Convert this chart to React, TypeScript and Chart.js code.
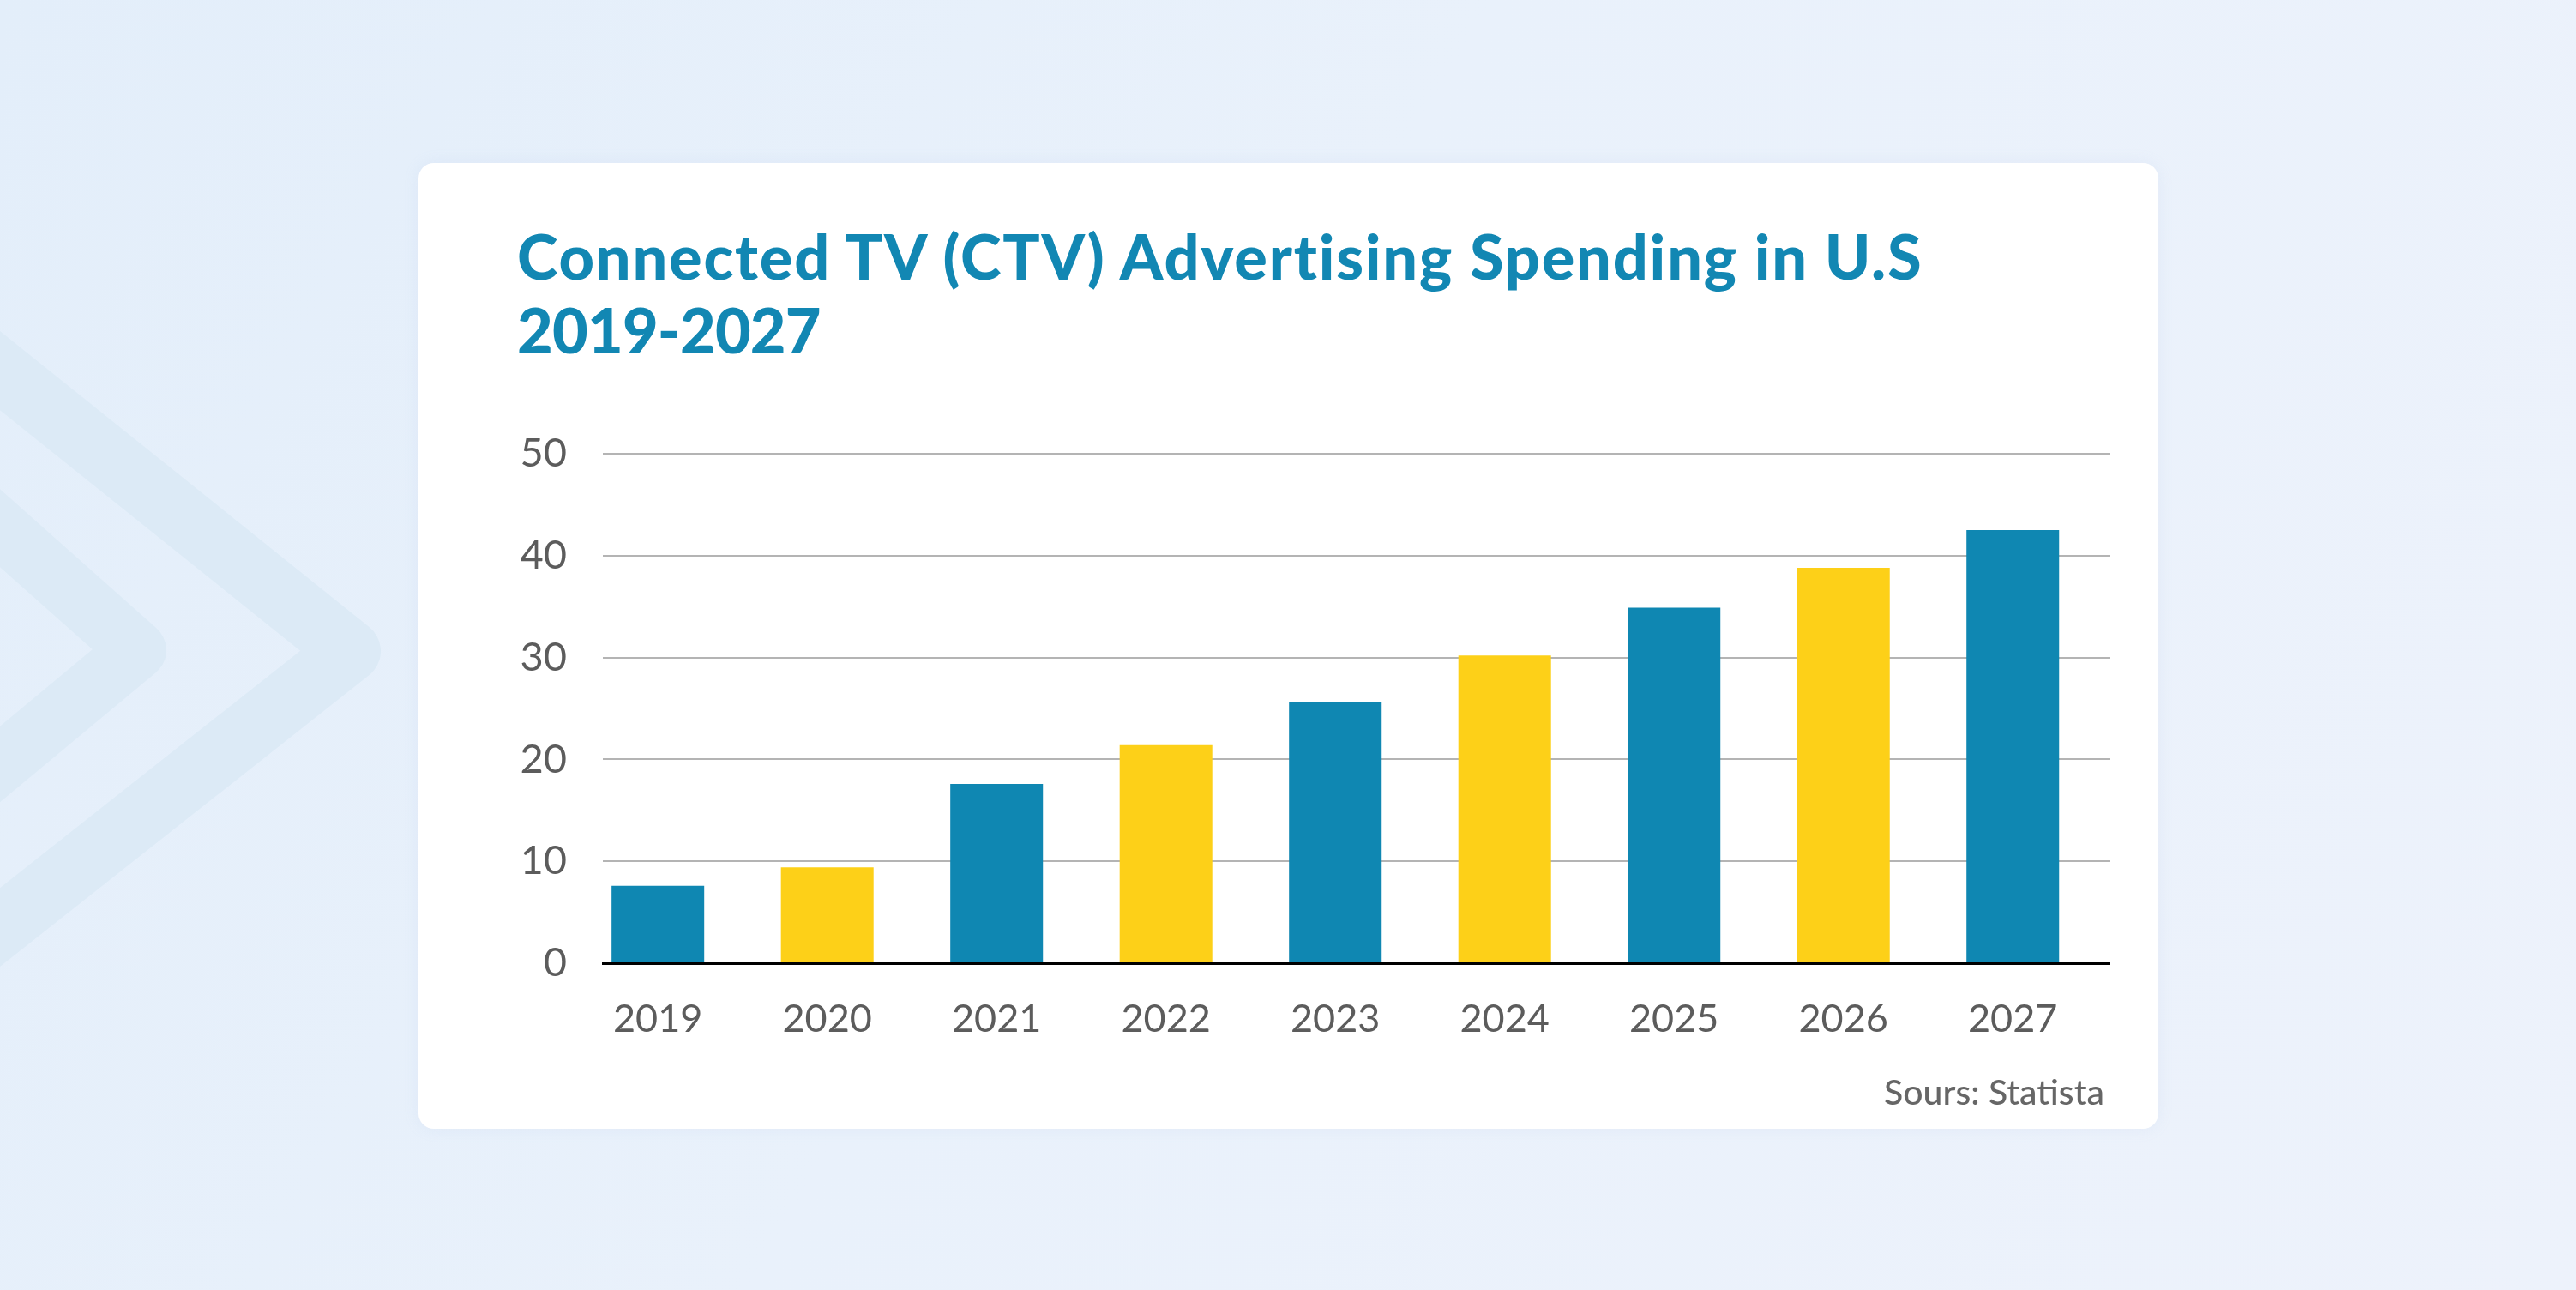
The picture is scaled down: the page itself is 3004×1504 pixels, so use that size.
import React, { useEffect, useRef } from 'react';
import { Chart, registerables } from 'chart.js';

Chart.register(...registerables);

// ---- data ----
const years = [2019, 2020, 2021, 2022, 2023, 2024, 2025, 2026, 2027];
const yearLabels = ['2019', '2020', '2021', '2022', '2023', '2024', '2025', '2026', '2027'];
const spending = [7.6, 9.4, 17.6, 21.4, 25.6, 30.2, 34.9, 38.8, 42.5];
const yTickValues = [0, 10, 20, 30, 40, 50];
const titleLines = ['Connected TV (CTV) Advertising Spending in U.S', '2019-2027'];
const sourceText = 'Sours: Statista';

const BLUE = '#0F87B2';
const YELLOW = '#FDD018';
const TEXT_GRAY = '#5C5C5C';
const FONT = "Lato, 'Open Sans', 'DejaVu Sans', sans-serif";
const TITLE_SPACING = ['1.8px', '-0.8px'];

export default function App() {
  const canvasRef = useRef<HTMLCanvasElement | null>(null);

  useEffect(() => {
    const canvas = canvasRef.current;
    if (!canvas) return;
    const barColors = years.map((_, i) => (i % 2 === 0 ? BLUE : YELLOW));
    const chart = new Chart(canvas, {
      type: 'bar',
      data: {
        datasets: [
          {
            data: years.map((x, i) => ({ x, y: spending[i] })),
            backgroundColor: barColors,
            borderWidth: 0,
            barPercentage: 0.547,
            categoryPercentage: 1,
          },
        ],
      },
      options: {
        responsive: false,
        animation: false,
        devicePixelRatio: 1,
        layout: { padding: { left: 583, right: 544, top: 529, bottom: 261 } },
        plugins: {
          legend: { display: false },
          tooltip: { enabled: false },
          title: { display: false },
        },
        scales: {
          x: {
            type: 'linear',
            min: 2018.675,
            max: 2027.571,
            offset: false,
            grid: { display: false, drawTicks: false },
            border: { display: true, color: '#000000', width: 3 },
            afterBuildTicks: (s: any) => {
              s.ticks = years.map((v) => ({ value: v }));
            },
            afterFit: (s: any) => {
              s.height = 120;
            },
            ticks: {
              padding: 38,
              color: TEXT_GRAY,
              font: { family: FONT, size: 45, weight: 'normal' },
              maxRotation: 0,
              autoSkip: false,
              callback: (v: any) => {
                const idx = years.indexOf(Math.round(Number(v)));
                return idx >= 0 ? yearLabels[idx] : '';
              },
            },
          },
          y: {
            type: 'linear',
            min: 0,
            max: 50,
            afterBuildTicks: (s: any) => {
              s.ticks = yTickValues.map((v) => ({ value: v }));
            },
            afterFit: (s: any) => {
              s.width = 120;
            },
            grid: {
              drawTicks: false,
              lineWidth: 2,
              color: (ctx: any) => (ctx.tick && ctx.tick.value === 0 ? 'rgba(0,0,0,0)' : '#B4B4B4'),
            },
            border: { display: false },
            ticks: {
              padding: 42,
              color: TEXT_GRAY,
              font: { family: FONT, size: 47, weight: 'normal' },
              callback: (v: any) => String(v),
            },
          },
        },
      },
    } as any);
    return () => chart.destroy();
  }, []);

  return (
    <div
      style={{
        position: 'absolute',
        left: 0,
        top: 0,
        width: 3004,
        height: 1504,
        overflow: 'hidden',
        background: 'linear-gradient(120deg, #E3EEFA 0%, #E9F1FB 45%, #EDF2FB 100%)',
      }}
    >
      <svg
        width={3004}
        height={1504}
        style={{ position: 'absolute', left: 0, top: 0 }}
      >
        <polyline
          points="-100,352 408,759 -100,1160"
          fill="none"
          stroke="#DCEAF6"
          strokeWidth={72}
          strokeLinejoin="round"
          strokeLinecap="round"
        />
        <polyline
          points="-100,527 160,758 -100,974"
          fill="none"
          stroke="#DCEAF6"
          strokeWidth={68}
          strokeLinejoin="round"
          strokeLinecap="round"
        />
      </svg>
      <div
        style={{
          position: 'absolute',
          left: 488,
          top: 190,
          width: 2029,
          height: 1126,
          background: '#FFFFFF',
          borderRadius: 18,
          boxShadow: '0 0 18px rgba(160,185,220,0.12)',
        }}
      />
      <div
        style={{
          position: 'absolute',
          left: 603,
          top: 255,
          fontFamily: FONT,
          fontWeight: 900,
          fontSize: 72,
          lineHeight: '86px',
          color: '#1287B3',
          whiteSpace: 'nowrap',
        }}
      >
        {titleLines.map((l, i) => (
          <div key={i} style={{ letterSpacing: TITLE_SPACING[i] }}>
            {l}
          </div>
        ))}
      </div>
      <canvas
        ref={canvasRef}
        width={3004}
        height={1504}
        style={{ position: 'absolute', left: 0, top: 0, width: 3004, height: 1504 }}
      />
      <div
        style={{
          position: 'absolute',
          right: 550,
          top: 1249,
          fontFamily: FONT,
          fontWeight: 500,
          fontSize: 41,
          lineHeight: '47px',
          color: '#666666',
          whiteSpace: 'nowrap',
        }}
      >
        {sourceText}
      </div>
    </div>
  );
}
